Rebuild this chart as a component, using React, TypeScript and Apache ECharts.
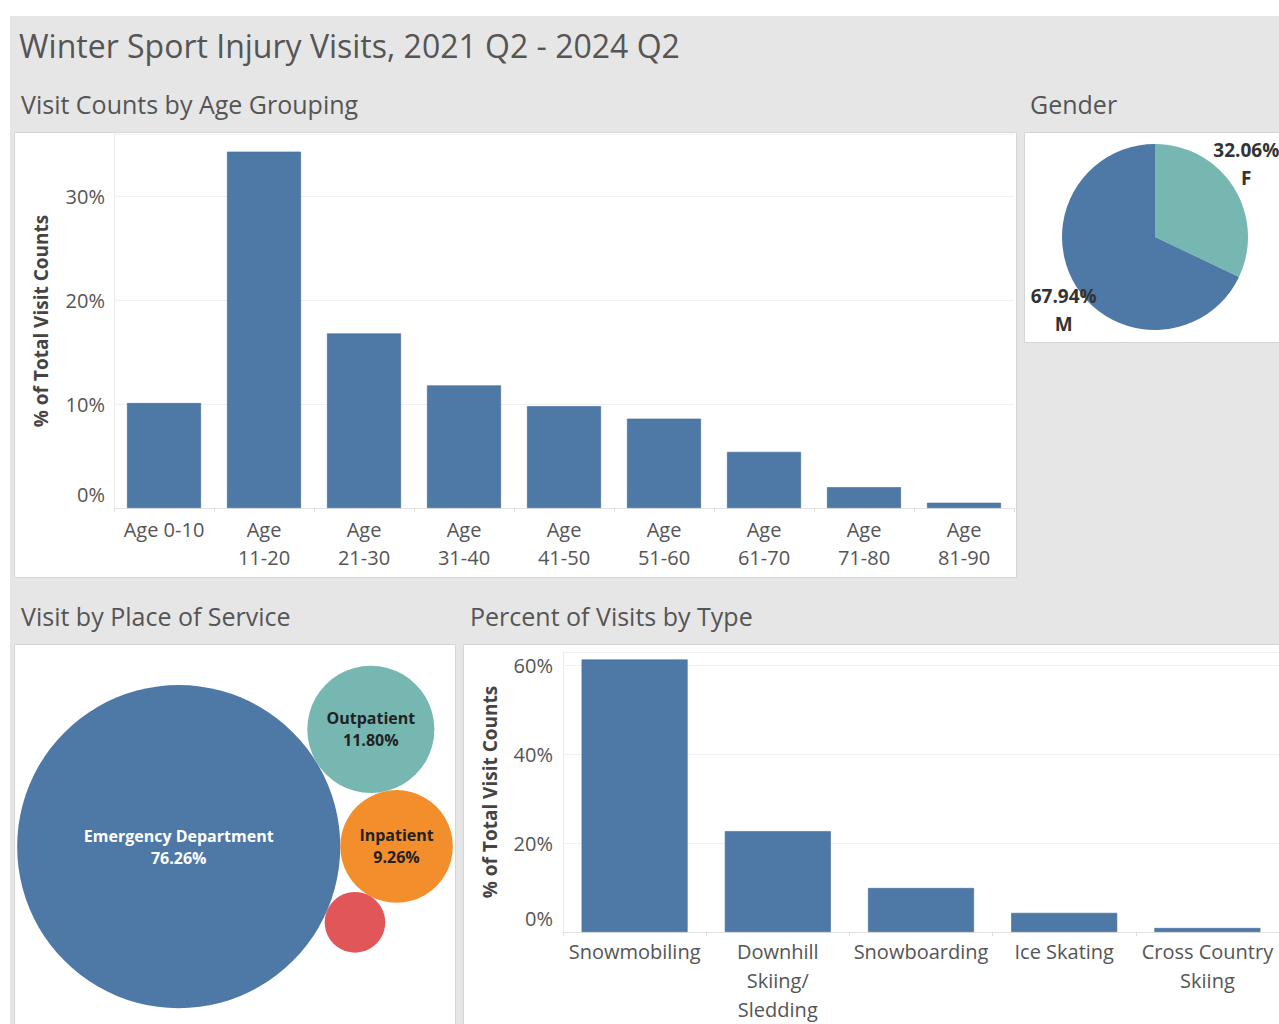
import React, { useEffect, useRef } from 'react';
import * as echarts from 'echarts';

// ---------- data ----------
const ageCategories = ['Age 0-10', 'Age\n11-20', 'Age\n21-30', 'Age\n31-40', 'Age\n41-50', 'Age\n51-60', 'Age\n61-70', 'Age\n71-80', 'Age\n81-90'];
const ageShares = [10.1, 34.3, 16.8, 11.8, 9.8, 8.6, 5.4, 2.0, 0.5];
const ageAxisTicks = [0, 10, 20, 30];

const genderNames = ['F', 'M'];
const genderShares = [32.06, 67.94];

const placeNames = ['Emergency Department', 'Outpatient', 'Inpatient', 'Other'];
const placeShares = [76.26, 11.8, 9.26, 2.68];

const sportNames = ['Snowmobiling', 'Downhill\nSkiing/\nSledding', 'Snowboarding', 'Ice Skating', 'Cross Country\nSkiing'];
const sportShares = [61.3, 22.7, 9.9, 4.3, 0.9];
const sportAxisTicks = [0, 20, 40, 60];

// ---------- styles ----------
const FONT = '"Open Sans", "Noto Sans", sans-serif';
const BAR = '#4e79a7';
const placeColors = ['#4e79a7', '#76b7b2', '#f28e2b', '#e15759'];
const placeTextColors = ['#ffffff', '#222222', '#222222', '#222222'];
const genderColors = ['#76b7b2', '#4e79a7'];
const TXT = '#555555';
const LABEL_SIZE = 20;

// ---------- packed bubble layout (computed from values) ----------
type C = { x: number; y: number; r: number };
function packBubbles(values: number[], k: number, firstAngleDeg: number, cx: number, cy: number): C[] {
  const circles: C[] = [];
  const rs = values.map((v) => k * Math.sqrt(v));
  circles.push({ x: 0, y: 0, r: rs[0] });
  if (values.length > 1) {
    const a = (firstAngleDeg * Math.PI) / 180;
    const d = rs[0] + rs[1];
    circles.push({ x: d * Math.cos(a), y: d * Math.sin(a), r: rs[1] });
  }
  const place = (A: C, B: C, r: number): C => {
    const da = A.r + r;
    const db = B.r + r;
    const dx = B.x - A.x;
    const dy = B.y - A.y;
    const d = Math.hypot(dx, dy);
    const t = (da * da - db * db + d * d) / (2 * d);
    const h = Math.sqrt(Math.max(0, da * da - t * t));
    const ux = dx / d;
    const uy = dy / d;
    const p1 = { x: A.x + t * ux - h * uy, y: A.y + t * uy + h * ux, r };
    const p2 = { x: A.x + t * ux + h * uy, y: A.y + t * uy - h * ux, r };
    const ang = (p: C) => Math.atan2(p.y - circles[0].y, p.x - circles[0].x);
    return ang(p1) > ang(p2) ? p1 : p2;
  };
  for (let i = 2; i < values.length; i++) {
    circles.push(place(circles[0], circles[i - 1], rs[i]));
  }
  let x0 = Infinity, x1 = -Infinity, y0 = Infinity, y1 = -Infinity;
  circles.forEach((c) => {
    x0 = Math.min(x0, c.x - c.r);
    x1 = Math.max(x1, c.x + c.r);
    y0 = Math.min(y0, c.y - c.r);
    y1 = Math.max(y1, c.y + c.r);
  });
  const ox = cx - (x0 + x1) / 2;
  const oy = cy - (y0 + y1) / 2;
  return circles.map((c) => ({ x: c.x + ox, y: c.y + oy, r: c.r }));
}

const bubbleLayout = packBubbles(placeShares, 18.5, -31.4, 235, 837);

// pie geometry
const PIE_CX = 1155;
const PIE_CY = 237;
const PIE_R = 93;

function tickFormatter(ticks: number[]) {
  return (v: number) => {
    if (!ticks.includes(v)) return '';
    if (v === 0) return '{z|0%}';
    return v + '%';
  };
}

const axisLabelBase = {
  color: TXT,
  fontSize: LABEL_SIZE,
  fontFamily: FONT,
  rich: {
    z: { color: TXT, fontSize: LABEL_SIZE, fontFamily: FONT, padding: [0, 0, 28, 0] },
  },
};

function panelRect(x: number, y: number, w: number, h: number) {
  return {
    type: 'rect',
    z: 0,
    silent: true,
    shape: { x, y, width: w, height: h },
    style: { fill: '#ffffff', stroke: '#d6d6d6', lineWidth: 1 },
  };
}

function heading(text: string, x: number, y: number, size: number) {
  return {
    type: 'text',
    z: 50,
    silent: true,
    style: {
      text,
      x,
      y,
      fill: TXT,
      fontSize: size,
      fontFamily: FONT,
      verticalAlign: 'middle',
      align: 'left',
    },
  };
}

const axisNameStyle = { color: '#444', fontSize: 19, fontWeight: 'bold', fontFamily: FONT };

const option: any = {
  animation: false,
  backgroundColor: '#ffffff',
  graphic: [
    {
      type: 'rect',
      z: -1,
      silent: true,
      shape: { x: 10, y: 16, width: 1300, height: 1100 },
      style: { fill: '#e6e6e6' },
    },
    panelRect(14.5, 132.5, 1002, 445),
    panelRect(1024.5, 132.5, 270, 210),
    panelRect(14.5, 644.5, 441, 420),
    panelRect(463.5, 644.5, 840, 420),
    heading('Winter Sport Injury Visits, 2021 Q2 - 2024 Q2', 19, 45, 32),
    heading('Visit Counts by Age Grouping', 21, 104, 25),
    heading('Gender', 1030, 104, 25),
    heading('Visit by Place of Service', 21, 616, 25),
    heading('Percent of Visits by Type', 470, 616, 25),
  ],
  grid: [
    { left: 114, top: 134, width: 900, height: 374 },
    { left: 563, top: 652, width: 722, height: 280 },
  ],
  xAxis: [
    {
      type: 'category',
      gridIndex: 0,
      data: ageCategories,
      axisLine: { lineStyle: { color: '#e3e3e3' } },
      axisTick: { show: true, length: 4, lineStyle: { color: '#dddddd' } },
      axisLabel: { color: TXT, fontSize: LABEL_SIZE, fontFamily: FONT, lineHeight: 28, margin: 7, interval: 0 },
    },
    {
      type: 'category',
      gridIndex: 1,
      data: sportNames,
      axisLine: { lineStyle: { color: '#e3e3e3' } },
      axisTick: { show: true, length: 4, lineStyle: { color: '#dddddd' } },
      axisLabel: { color: TXT, fontSize: LABEL_SIZE, fontFamily: FONT, lineHeight: 29, margin: 5, interval: 0 },
    },
  ],
  yAxis: [
    {
      type: 'value',
      gridIndex: 0,
      min: 0,
      max: 36,
      interval: 10,
      name: '% of Total Visit Counts',
      nameLocation: 'middle',
      nameRotate: 90,
      nameGap: 64,
      nameTextStyle: axisNameStyle,
      axisLine: { show: true, lineStyle: { color: '#ececec' } },
      axisTick: { show: false },
      splitLine: { lineStyle: { color: '#f0f0f0' } },
      axisLabel: { ...axisLabelBase, margin: 9, formatter: tickFormatter(ageAxisTicks) },
    },
    {
      type: 'value',
      gridIndex: 1,
      min: 0,
      max: 63,
      interval: 20,
      name: '% of Total Visit Counts',
      nameLocation: 'middle',
      nameRotate: 90,
      nameGap: 64,
      nameTextStyle: axisNameStyle,
      axisLine: { show: true, lineStyle: { color: '#ececec' } },
      axisTick: { show: false },
      splitLine: { lineStyle: { color: '#f0f0f0' } },
      axisLabel: { ...axisLabelBase, margin: 10, formatter: tickFormatter(sportAxisTicks) },
    },
  ],
  series: [
    {
      type: 'bar',
      xAxisIndex: 0,
      yAxisIndex: 0,
      data: ageShares,
      barCategoryGap: '26%',
      itemStyle: { color: BAR, borderColor: '#41699a', borderWidth: 0.6 },
    },
    {
      type: 'bar',
      xAxisIndex: 1,
      yAxisIndex: 1,
      data: sportShares,
      barCategoryGap: '26%',
      itemStyle: { color: BAR, borderColor: '#41699a', borderWidth: 0.6 },
    },
    {
      type: 'pie',
      center: [PIE_CX, PIE_CY],
      radius: PIE_R,
      startAngle: 90,
      clockwise: true,
      data: genderNames.map((n, i) => ({ name: n, value: genderShares[i], itemStyle: { color: genderColors[i] } })),
      labelLine: { show: false },
      label: {
        show: true,
        position: 'inside',
        formatter: (p: any) => p.value.toFixed(2) + '%\n' + p.name,
        color: '#333',
        fontSize: 19,
        fontWeight: 'bold',
        fontFamily: FONT,
        lineHeight: 28,
        align: 'center',
      },
      labelLayout: (p: any) => {
        const i = p.dataIndex;
        let before = 0;
        for (let j = 0; j < i; j++) before += genderShares[j];
        const total = genderShares.reduce((a, b) => a + b, 0);
        const mid = ((before + genderShares[i] / 2) / total) * Math.PI * 2;
        const R = PIE_R + 15;
        const vy = -Math.cos(mid);
        return {
          x: PIE_CX + R * Math.sin(mid),
          y: PIE_CY + R * vy + 15 * Math.sign(vy),
          align: 'center',
          verticalAlign: 'middle',
        };
      },
    },
    {
      type: 'custom',
      coordinateSystem: 'none',
      data: placeShares.map((v, i) => [v, i]),
      renderItem: (params: any, api: any) => {
        const i = params.dataIndex;
        const c = bubbleLayout[i];
        const children: any[] = [
          { type: 'circle', shape: { cx: c.x, cy: c.y, r: c.r }, style: { fill: placeColors[i] } },
        ];
        if (c.r > 40) {
          children.push({
            type: 'text',
            style: {
              text: placeNames[i] + '\n' + api.value(0).toFixed(2) + '%',
              x: c.x,
              y: c.y,
              align: 'center',
              verticalAlign: 'middle',
              fill: placeTextColors[i],
              fontSize: 16,
              fontWeight: 'bold',
              fontFamily: FONT,
              lineHeight: 22,
            },
          });
        }
        return { type: 'group', children };
      },
    },
  ],
};

export default function App() {
  const ref = useRef<HTMLDivElement>(null);
  useEffect(() => {
    const chart = echarts.init(ref.current!, null, { renderer: 'svg', width: 1279, height: 1024 });
    chart.setOption(option);
    return () => chart.dispose();
  }, []);
  return (
    <div
      ref={ref}
      style={{ position: 'absolute', left: 0, top: 0, width: 1279, height: 1024, overflow: 'hidden', background: '#fff' }}
    />
  );
}
